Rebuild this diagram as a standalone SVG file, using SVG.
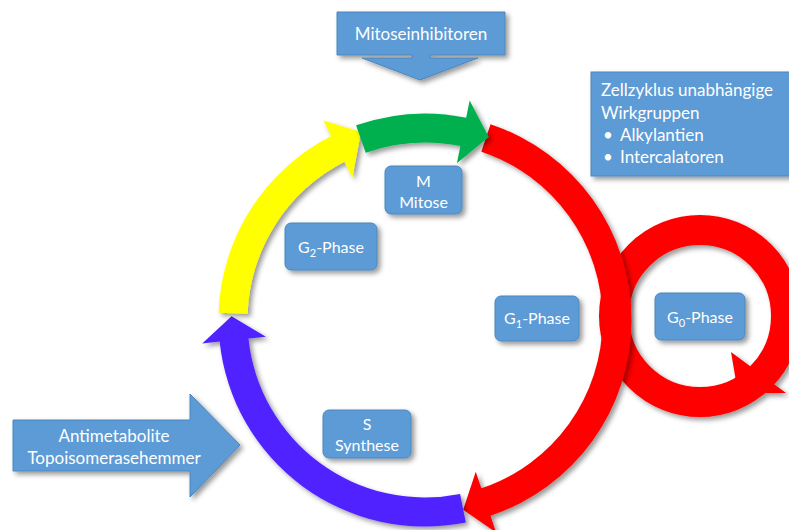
<svg xmlns="http://www.w3.org/2000/svg" width="789" height="530" viewBox="0 0 789 530">
<defs>
<filter id="sh" x="-20%" y="-20%" width="140%" height="140%">
<feDropShadow dx="3" dy="3" stdDeviation="2.5" flood-color="#000" flood-opacity="0.4"/>
</filter>
<style>
.box{fill:#5B9BD5;stroke:#4A86BE;stroke-width:1;filter:url(#sh)}
.t{font-family:Lato,"Open Sans","Liberation Sans",sans-serif;fill:#fff;font-size:16px;text-anchor:middle}
.tl{font-family:Lato,"Open Sans","Liberation Sans",sans-serif;fill:#fff;font-size:16px}
.arc{filter:url(#sh)}
</style>
</defs>
<rect width="789" height="530" fill="#fff"/>
<g id="connectors">
<g id="g0-loop" class="arc">
<circle cx="700" cy="316" r="86" fill="none" stroke="#FF0000" stroke-width="30"/>
<polygon points="731,352 786,393 738,393" fill="#FF0000"/>
</g>
<path id="arrow-red" class="arc" fill="#FF0000" d="M490.52,124.17 A206.5,206.5 0 0 1 490.52,515.83 L496.08,532.42 L463.16,509.70 L475.77,471.73 L481.32,488.33 A177.5,177.5 0 0 0 481.32,151.67 Z"/>
<path id="arrow-purple" class="arc" fill="#5020FF" d="M465.82,522.43 A206.5,206.5 0 0 1 219.63,341.59 L202.23,343.41 L231.54,316.2 L265.88,336.72 L248.47,338.55 A177.5,177.5 0 0 0 460.08,494.00 Z"/>
<path id="arrow-yellow" class="arc" fill="#FFFF00" d="M218.63,312.79 A206.5,206.5 0 0 1 331.25,136.01 L323.31,120.41 L361.00,132.00 L352.36,177.44 L344.42,161.85 A177.5,177.5 0 0 0 247.61,313.81 Z"/>
<path id="arrow-green" class="arc" fill="#00B050" d="M356.07,125.34 A206.5,206.5 0 0 1 466.17,117.65 L469.66,100.50 L488.76,137.04 L456.90,163.21 L460.39,146.06 A177.5,177.5 0 0 0 365.75,152.68 Z"/>
</g>
<g id="mitoseinhibitoren">
<path class="box" d="M337,12 H505 V55 H430 V58 H478 L420,80 L362,58 H412 V55 H337 Z"/>
<text class="t" x="421" y="40" style="font-size:17px">Mitoseinhibitoren</text>
</g>
<g id="wirkgruppen">
<rect class="box" x="591" y="72" width="205" height="104"/>
<text class="tl" x="601" y="96" style="font-size:17px">Zellzyklus unabhängige</text>
<text class="tl" x="601" y="119" style="font-size:17px">Wirkgruppen</text>
<text class="tl" x="603" y="141" style="font-size:17px">•</text>
<text class="tl" x="620" y="141" style="font-size:17px">Alkylantien</text>
<text class="tl" x="603" y="163" style="font-size:17px">•</text>
<text class="tl" x="620" y="163" style="font-size:17px">Intercalatoren</text>
</g>
<g id="mitose">
<rect class="box" x="385" y="166" width="77" height="48" rx="6"/>
<text class="t" x="423.5" y="187">M</text>
<text class="t" x="423.5" y="208">Mitose</text>
</g>
<g id="g2">
<rect class="box" x="285" y="223" width="92" height="47" rx="6"/>
<text class="t" x="331" y="253">G<tspan dy="4" font-size="11">2</tspan><tspan dy="-4">-Phase</tspan></text>
</g>
<g id="g1">
<rect class="box" x="495" y="296" width="84" height="45" rx="6"/>
<text class="t" x="537" y="324">G<tspan dy="4" font-size="11">1</tspan><tspan dy="-4">-Phase</tspan></text>
</g>
<g id="g0">
<rect class="box" x="655" y="293" width="90" height="47" rx="6"/>
<text class="t" x="700" y="323">G<tspan dy="4" font-size="11">0</tspan><tspan dy="-4">-Phase</tspan></text>
</g>
<g id="synthese">
<rect class="box" x="323" y="410" width="88" height="48" rx="6"/>
<text class="t" x="367" y="430">S</text>
<text class="t" x="367" y="451">Synthese</text>
</g>
<g id="antimetabolite">
<path class="box" d="M13,420 H190 V394 L240,445 L190,497 V471 H13 Z"/>
<text class="t" x="114" y="442" style="font-size:17px">Antimetabolite</text>
<text class="t" x="114" y="464" style="font-size:17px">Topoisomerasehemmer</text>
</g>
</svg>
